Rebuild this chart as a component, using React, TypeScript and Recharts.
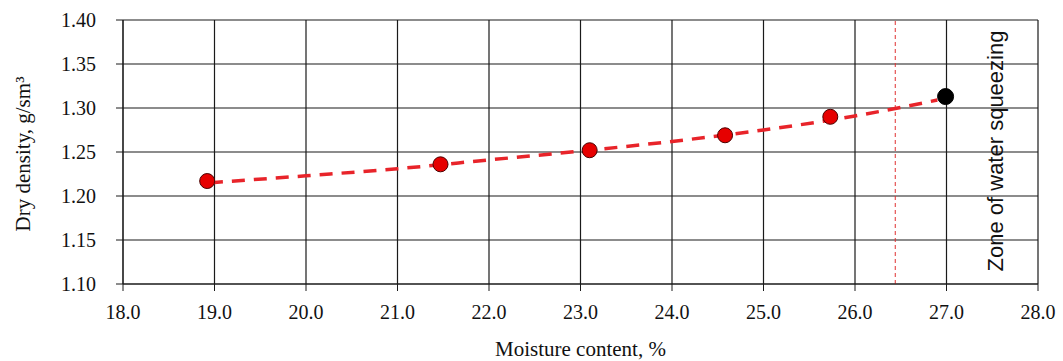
import React from 'react';
import {
  ComposedChart,
  Line,
  Scatter,
  XAxis,
  YAxis,
  CartesianGrid,
  ReferenceLine,
} from 'recharts';

// measured points (red) and the point in the squeezing zone (black)
const moisture = [18.92, 21.47, 23.1, 24.58, 25.73];
const density = [1.217, 1.236, 1.252, 1.269, 1.29];
const squeezeMoisture = [26.99];
const squeezeDensity = [1.313];

// dashed trend curve
const trendMoisture = [18.95, 20, 21, 22, 23, 24, 25, 26, 26.9];
const trendDensity = [1.215, 1.223, 1.231, 1.241, 1.251, 1.262, 1.275, 1.291, 1.309];

const boundaryMoisture = 26.44;

const xTicks = [18, 19, 20, 21, 22, 23, 24, 25, 26, 27, 28];
const yTicks = [1.1, 1.15, 1.2, 1.25, 1.3, 1.35, 1.4];

const points = moisture.map((x, i) => ({ x, y: density[i] }));
const squeezePoints = squeezeMoisture.map((x, i) => ({ x, y: squeezeDensity[i] }));
const trend = trendMoisture.map((x, i) => ({ x, y: trendDensity[i] }));

const serif = '"Liberation Serif", "Times New Roman", serif';
const sans = '"Liberation Sans", Arial, sans-serif';

const RedDot = (props: any) => (
  <circle cx={props.cx} cy={props.cy} r={7.5} fill="#e60000" stroke="#4a0000" strokeWidth={1} />
);
const BlackDot = (props: any) => (
  <circle cx={props.cx} cy={props.cy} r={8} fill="#000" stroke="#000" strokeWidth={1} />
);

const XTick = (props: any) => (
  <text
    x={props.x}
    y={props.y + 26}
    textAnchor="middle"
    fontSize={20}
    fontFamily={serif}
    fill="#111"
  >
    {Number(props.payload.value).toFixed(1)}
  </text>
);

const YTick = (props: any) => (
  <text
    x={96}
    y={props.y + 7}
    textAnchor="end"
    fontSize={20}
    fontFamily={serif}
    fill="#111"
  >
    {Number(props.payload.value).toFixed(2)}
  </text>
);

export default function App() {
  return (
    <div style={{ width: 1063, height: 361, background: '#fff', fontFamily: serif }}>
      <style>{'body{margin:0}'}</style>
      <ComposedChart
        width={1063}
        height={361}
        margin={{ top: 20, right: 25, left: 0, bottom: 0 }}
      >
        <CartesianGrid stroke="#1a1a1a" strokeWidth={1.2} />
        <XAxis
          type="number"
          dataKey="x"
          domain={[18, 28]}
          ticks={xTicks}
          allowDataOverflow
          height={77}
          tickSize={7}
          stroke="#1a1a1a"
          tick={XTick}
          label={(p: any) => {
            const vb = p.viewBox;
            return (
              <text
                x={vb.x + vb.width / 2}
                y={356}
                textAnchor="middle"
                fontSize={21}
                fontFamily={serif}
                fill="#111"
              >
                Moisture content, %
              </text>
            );
          }}
        />
        <YAxis
          type="number"
          dataKey="y"
          domain={[1.1, 1.4]}
          ticks={yTicks}
          allowDataOverflow
          width={123}
          tickSize={7}
          stroke="#1a1a1a"
          tick={YTick}
          label={(p: any) => {
            const vb = p.viewBox;
            const cy = vb.y + vb.height / 2 + 2;
            return (
              <text
                x={30}
                y={cy}
                transform={`rotate(-90 30 ${cy})`}
                textAnchor="middle"
                fontSize={21}
                fontFamily={serif}
                fill="#111"
              >
                Dry density, g/sm³
              </text>
            );
          }}
        />
        <ReferenceLine
          x={boundaryMoisture}
          stroke="#e03030"
          strokeWidth={1}
          strokeDasharray="4 3"
        />
        <ReferenceLine
          x={27.53}
          stroke="none"
          label={(p: any) => {
            const vb = p.viewBox;
            const cx = vb.x + 8;
            const cy = 151;
            return (
              <text
                x={cx}
                y={cy}
                transform={`rotate(-90 ${cx} ${cy})`}
                textAnchor="middle"
                fontSize={22}
                fontFamily={sans}
                fill="#111"
              >
                Zone of water squeezing
              </text>
            );
          }}
        />
        <Line
          data={trend}
          dataKey="y"
          type="monotone"
          stroke="#e8242a"
          strokeWidth={3.5}
          strokeDasharray="13 9"
          dot={false}
          activeDot={false}
          isAnimationActive={false}
        />
        <Scatter data={points} dataKey="y" shape={RedDot} isAnimationActive={false} />
        <Scatter data={squeezePoints} dataKey="y" shape={BlackDot} isAnimationActive={false} />
      </ComposedChart>
    </div>
  );
}
